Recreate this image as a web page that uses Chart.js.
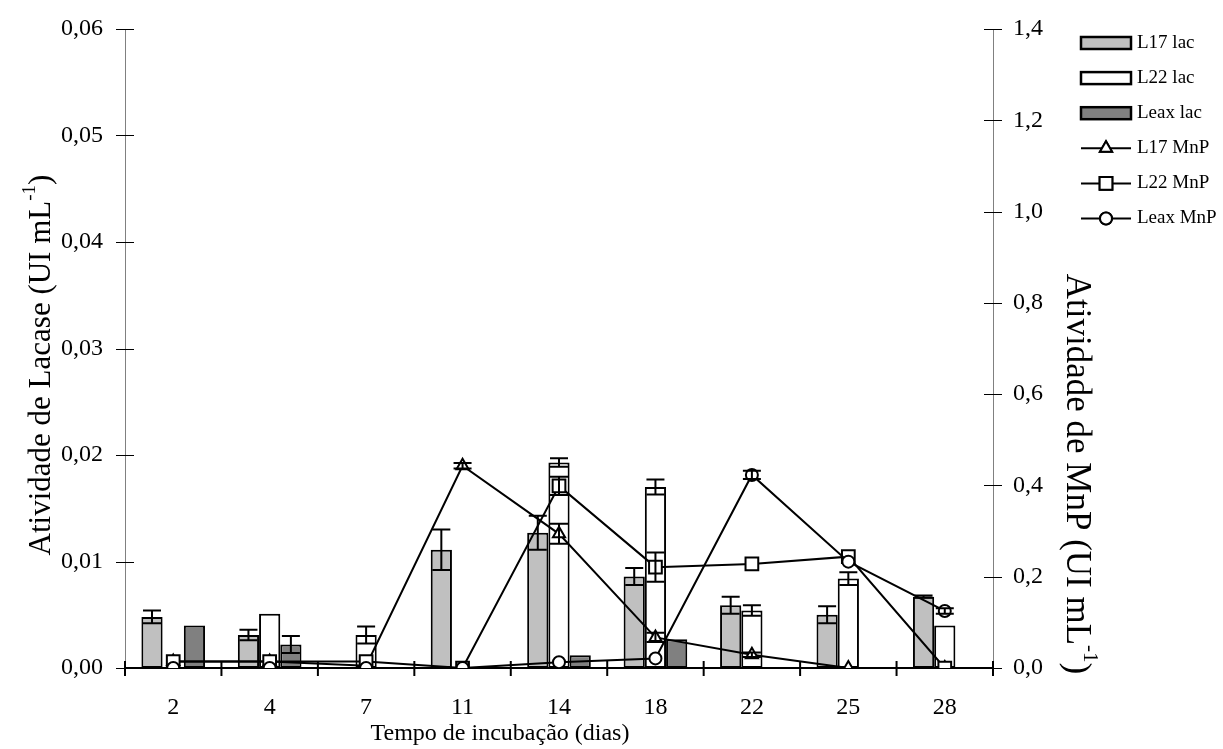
<!DOCTYPE html>
<html>
<head>
<meta charset="utf-8">
<title>Atividade de Lacase e MnP</title>
<script src="https://cdn.jsdelivr.net/npm/chart.js@4.4.1/dist/chart.umd.min.js"></script>
<style>
  html, body { margin: 0; padding: 0; background: #ffffff; }
  #wrap { width: 1223px; height: 749px; }
</style>
</head>
<body>
<div id="wrap"><canvas id="chart" width="1223" height="749"></canvas></div>
<script>
// Incubation days (categories)
const categories = ['2', '4', '7', '11', '14', '18', '22', '25', '28'];

// Laccase activity (UI mL-1), left axis
const l17Lac    = [0.0048, 0.0031, 0.0000, 0.0111, 0.0127, 0.0086, 0.0059, 0.0050, 0.0067];
const l17LacErr = [0.0006, 0.0005, 0.0000, 0.0019, 0.0016, 0.0008, 0.0008, 0.0008, 0.0001];
const l22Lac    = [0.0000, 0.0051, 0.0031, 0.0000, 0.0193, 0.0170, 0.0054, 0.0084, 0.0040];
const l22LacErr = [0.0000, 0.0000, 0.0008, 0.0000, 0.0004, 0.0007, 0.0005, 0.0006, 0.0000];
const leaxLac    = [0.0040, 0.0022, 0.0000, 0.0000, 0.0012, 0.0027, 0.0000, 0.0000, 0.0000];
const leaxLacErr = [0.0000, 0.0008, 0.0000, 0.0000, 0.0000, 0.0000, 0.0000, 0.0000, 0.0000];

// MnP activity (UI mL-1), right axis
const l17MnP    = [0.014, 0.014, 0.005, 0.443, 0.294, 0.067, 0.029, 0.000, 0.000];
const l17MnPErr = [0.000, 0.000, 0.000, 0.006, 0.022, 0.010, 0.005, 0.000, 0.000];
const l22MnP    = [0.014, 0.014, 0.014, 0.000, 0.399, 0.221, 0.228, 0.244, 0.000];
const l22MnPErr = [0.000, 0.000, 0.000, 0.000, 0.020, 0.032, 0.000, 0.000, 0.000];
const leaxMnP    = [0.000, 0.000, 0.000, 0.000, 0.0125, 0.021, 0.423, 0.233, 0.125];
const leaxMnPErr = [0.000, 0.000, 0.000, 0.000, 0.000, 0.000, 0.009, 0.000, 0.006];

// Axis ranges and titles
const lacTicks = { min: 0, max: 0.06, step: 0.01 };
const mnpTicks = { min: 0, max: 1.4, step: 0.2 };
const xTitle = 'Tempo de incubação (dias)';
const yLeftTitle = [{ t: 'Atividade de Lacase (UI mL' }, { t: '-1', sup: true }, { t: ')' }];
const yRightTitle = [{ t: 'Atividade de MnP (UI mL' }, { t: '-1', sup: true }, { t: ')' }];

const FONT = "'Liberation Serif', 'Times New Roman', serif";
Chart.defaults.font.family = FONT;
Chart.defaults.color = '#000000';

// Lower `order` is painted on top: lines over bars, later series over earlier ones
function barSet(label, data, errors, fill) {
  return {
    type: 'bar', label, data, errors,
    yAxisID: 'y', order: 10,
    backgroundColor: fill, borderColor: '#000000', borderWidth: 2,
    borderSkipped: false,
    categoryPercentage: 0.66, barPercentage: 1.0
  };
}
function lineSet(label, data, errors, style, radius, order) {
  return {
    type: 'line', label, data, errors,
    yAxisID: 'y2', order,
    borderColor: '#000000', borderWidth: 2, tension: 0, fill: false,
    pointStyle: style, pointRadius: radius,
    pointBackgroundColor: '#ffffff', pointBorderColor: '#000000', pointBorderWidth: 2
  };
}

// Text with a superscript part; returns its width and a draw function
function richText(ctx, parts, size) {
  const supSize = Math.round(size * 0.6);
  let total = 0;
  const widths = parts.map(p => {
    ctx.font = (p.sup ? supSize : size) + 'px ' + FONT;
    const w = ctx.measureText(p.t).width;
    total += w;
    return w;
  });
  return { total, draw: (x0, y) => {
    let x = x0;
    parts.forEach((p, i) => {
      ctx.font = (p.sup ? supSize : size) + 'px ' + FONT;
      ctx.fillText(p.t, x, p.sup ? y - size * 0.38 : y);
      x += widths[i];
    });
  }};
}

// Vertical axis title centred at (cx, cy), sized to span `len` pixels
function verticalTitle(ctx, parts, cx, cy, len, angle) {
  const probe = richText(ctx, parts, 24);
  const size = Math.round(24 * len / probe.total);
  const rt = richText(ctx, parts, size);
  ctx.save();
  ctx.translate(cx, cy);
  ctx.rotate(angle);
  rt.draw(-rt.total / 2, 0);
  ctx.restore();
}

// Crossing tick marks, error bars, titles and legend
const decorations = {
  id: 'decorations',
  afterDatasetsDraw(chart) {
    const ctx = chart.ctx;
    ctx.save();
    ctx.strokeStyle = '#000000';
    ctx.lineWidth = 2;
    chart.data.datasets.forEach((ds, di) => {
      const meta = chart.getDatasetMeta(di);
      const sc = chart.scales[meta.yAxisID];
      (ds.errors || []).forEach((e, j) => {
        if (!e) return;
        const x = meta.data[j].x;
        const yT = sc.getPixelForValue(ds.data[j] + e);
        const yB = sc.getPixelForValue(Math.max(ds.data[j] - e, 0));
        ctx.beginPath();
        ctx.moveTo(x, yT); ctx.lineTo(x, yB);
        ctx.moveTo(x - 9, yT); ctx.lineTo(x + 9, yT);
        ctx.moveTo(x - 9, yB); ctx.lineTo(x + 9, yB);
        ctx.stroke();
      });
    });
    ctx.restore();
  },
  afterDraw(chart) {
    const ctx = chart.ctx;
    const xs = chart.scales.x, yl = chart.scales.y, yr = chart.scales.y2;
    ctx.save();
    ctx.strokeStyle = '#000000';
    ctx.lineWidth = 1;
    yl.ticks.forEach(t => {
      const y = Math.round(yl.getPixelForValue(t.value)) + 0.5;
      ctx.beginPath(); ctx.moveTo(yl.right - 9, y); ctx.lineTo(yl.right + 9, y); ctx.stroke();
    });
    yr.ticks.forEach(t => {
      const y = Math.round(yr.getPixelForValue(t.value)) + 0.5;
      ctx.beginPath(); ctx.moveTo(yr.left - 9, y); ctx.lineTo(yr.left + 9, y); ctx.stroke();
    });
    ctx.lineWidth = 2;
    for (let k = 0; k <= categories.length; k++) {
      const x = xs.getPixelForValue(k - 0.5);
      ctx.beginPath(); ctx.moveTo(x, xs.top - 7); ctx.lineTo(x, xs.top + 8); ctx.stroke();
    }
    ctx.fillStyle = '#000000';
    ctx.textBaseline = 'middle';
    ctx.textAlign = 'left';
    ctx.font = '24px ' + FONT;
    const xw = ctx.measureText(xTitle).width;
    ctx.fillText(xTitle, 500 - xw / 2, 734);
    verticalTitle(ctx, yLeftTitle, 42, 365, 386, -Math.PI / 2);
    verticalTitle(ctx, yRightTitle, 1076, 474, 404, Math.PI / 2);
    // legend
    const lx0 = 1081, lx1 = 1131, ly0 = 43, dy = 35.1;
    chart.data.datasets.forEach((ds, i) => {
      const y = ly0 + dy * i;
      ctx.strokeStyle = '#000000';
      if (ds.type === 'bar') {
        ctx.lineWidth = 2.5;
        ctx.fillStyle = ds.backgroundColor;
        ctx.fillRect(lx0, y - 6, lx1 - lx0, 12);
        ctx.strokeRect(lx0, y - 6, lx1 - lx0, 12);
      } else {
        ctx.lineWidth = 2;
        ctx.beginPath(); ctx.moveTo(lx0, y); ctx.lineTo(lx1, y); ctx.stroke();
        Chart.helpers.drawPoint(ctx, {
          pointStyle: ds.pointStyle, radius: ds.pointRadius, rotation: 0, borderWidth: 2
        }, (lx0 + lx1) / 2, y);
        ctx.fillStyle = '#ffffff';
        ctx.fill();
        ctx.stroke();
      }
      ctx.fillStyle = '#000000';
      ctx.font = '19px ' + FONT;
      ctx.textAlign = 'left';
      ctx.fillText(ds.label, 1137, y);
    });
    ctx.restore();
  }
};

new Chart(document.getElementById('chart'), {
  data: {
    labels: categories,
    datasets: [
      barSet('L17 lac', l17Lac, l17LacErr, '#c0c0c0'),
      barSet('L22 lac', l22Lac, l22LacErr, '#ffffff'),
      barSet('Leax lac', leaxLac, leaxLacErr, '#808080'),
      lineSet('L17 MnP', l17MnP, l17MnPErr, 'triangle', 7, 3),
      lineSet('L22 MnP', l22MnP, l22MnPErr, 'rect', 9, 2),
      lineSet('Leax MnP', leaxMnP, leaxMnPErr, 'circle', 6, 1)
    ]
  },
  options: {
    responsive: false,
    animation: false,
    events: [],
    layout: { padding: { top: 29, left: 0, right: 0, bottom: 0 } },
    plugins: { legend: { display: false }, tooltip: { enabled: false } },
    scales: {
      x: {
        type: 'category',
        offset: true,
        grid: { display: false, drawTicks: true, tickLength: 25 },
        border: { display: true, color: '#000000', width: 2 },
        ticks: { font: { size: 24 }, color: '#000000', padding: 0, maxRotation: 0, autoSkip: false },
        afterFit(s) { s.height = 81; }
      },
      y: {
        position: 'left',
        min: lacTicks.min, max: lacTicks.max,
        grid: { display: false, drawTicks: true, tickLength: 22 },
        border: { display: true, color: '#808080', width: 1 },
        ticks: {
          stepSize: lacTicks.step, font: { size: 24 }, color: '#000000', padding: 0,
          callback: v => v.toFixed(2).replace('.', ',')
        },
        afterFit(s) { s.width = 125; }
      },
      y2: {
        position: 'right',
        min: mnpTicks.min, max: mnpTicks.max,
        grid: { display: false, drawTicks: true, tickLength: 20 },
        border: { display: true, color: '#808080', width: 1 },
        ticks: {
          stepSize: mnpTicks.step, font: { size: 24 }, color: '#000000', padding: 0,
          callback: v => v.toFixed(1).replace('.', ',')
        },
        afterFit(s) { s.width = 230; }
      }
    }
  },
  plugins: [decorations]
});
</script>
</body>
</html>
